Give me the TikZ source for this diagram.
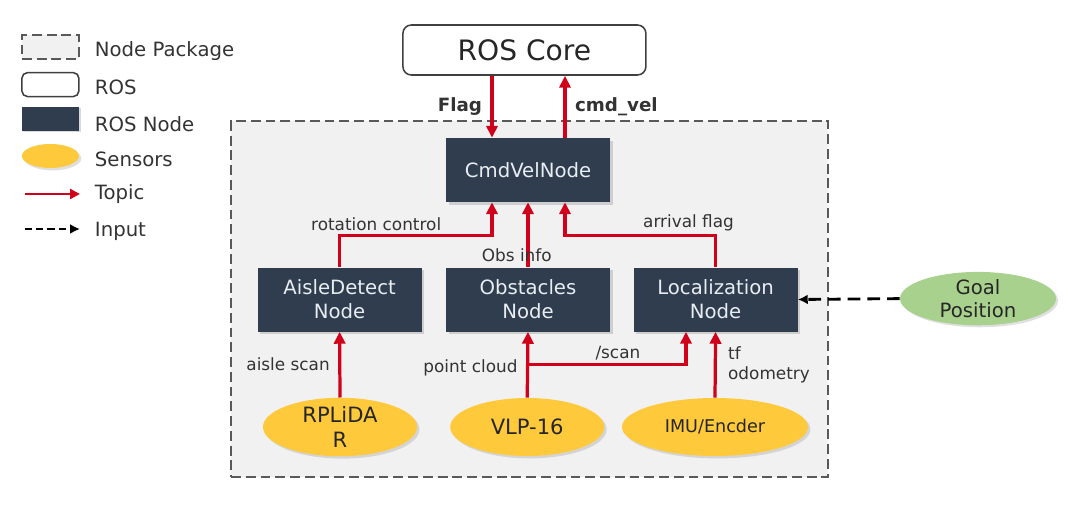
\documentclass[tikz,border=0pt]{standalone}
\usepackage{fontspec}
\setmainfont{DejaVu Sans}
\usepackage{xcolor}
\usepackage{tikz}
\usetikzlibrary{shapes.geometric, arrows.meta, positioning, calc, shadows}
\definecolor{nodeslate}{HTML}{2F3D4E}
\definecolor{nodetext}{HTML}{E8EDF2}
\definecolor{topicred}{HTML}{D0021B}
\definecolor{sensoryellow}{HTML}{FFC93C}
\definecolor{goalgreen}{HTML}{A9D18E}
\definecolor{pkggray}{HTML}{F1F1F1}
\definecolor{labelgray}{HTML}{333333}
\tikzset{
  corebox/.style={
    draw=black!75, line width=1.1pt, rounded corners=6pt, fill=white,
    minimum width=6.075cm, minimum height=1.25cm,
    font=\fontsize{20}{24}\selectfont, text=black!85
  },
  rosnode/.style={
    fill=nodeslate, text=nodetext, align=center,
    minimum width=4.1cm, minimum height=1.6cm,
    font=\fontsize{14}{17}\selectfont,
    drop shadow={shadow xshift=0.07cm, shadow yshift=-0.07cm, opacity=0.3}
  },
  sensornode/.style={
    ellipse, fill=sensoryellow, align=center, inner sep=0pt,
    minimum width=3.85cm, minimum height=1.45cm,
    font=\fontsize{15}{18}\selectfont, text=black!85,
    drop shadow={shadow xshift=0.06cm, shadow yshift=-0.06cm, opacity=0.25}
  },
  pkgbox/.style={draw=black!65, dash pattern=on 7pt off 3.5pt, fill=pkggray, line width=1.1pt},
  topic/.style={-{Triangle[length=8.5pt, width=8pt]}, line width=2.3pt, draw=topicred},
  inputarrow/.style={-{Latex[length=7pt, width=7pt]}, line width=2pt, dash pattern=on 7pt off 4.5pt},
  topiclabel/.style={font=\fontsize{12}{14}\selectfont, text=labelgray, inner sep=2pt},
  legendlabel/.style={anchor=west, font=\fontsize{14}{17}\selectfont, text=labelgray},
}

\begin{document}
\begin{tikzpicture}
  \useasboundingbox (0,0) rectangle (26.85,12.925);

  % legend
  \node[pkgbox, minimum width=1.425cm, minimum height=0.6cm] (legpkg) at (1.26,11.75) {};
  \node[draw=black!75, line width=1.1pt, rounded corners=4pt, fill=white, minimum width=1.425cm, minimum height=0.6cm] (legros) at (1.26,10.81) {};
  \node[fill=nodeslate, minimum width=1.425cm, minimum height=0.6cm,
        drop shadow={shadow xshift=0.04cm, shadow yshift=-0.04cm, opacity=0.3}] (legnode) at (1.26,9.96) {};
  \node[sensornode, minimum width=1.425cm, minimum height=0.6cm] (legsensor) at (1.26,9.025) {};
  \coordinate (legtopicA) at (0.625,8.075);
  \coordinate (legtopicB) at (2.0,8.075);
  \coordinate (leginputA) at (0.625,7.2);
  \coordinate (leginputB) at (2.0,7.2);
  \draw[topic, line width=1.6pt, -{Triangle[length=7pt, width=7pt]}] (legtopicA) -- (legtopicB);
  \draw[inputarrow, line width=1.6pt, dash pattern=on 5pt off 3pt] (leginputA) -- (leginputB);

  \node[legendlabel] (lpkg) at (2.25,11.65) {Node Package};
  \node[legendlabel] (lros) at (2.25,10.75) {ROS};
  \node[legendlabel] (lnode) at (2.25,9.83) {ROS Node};
  \node[legendlabel] (lsensor) at (2.25,8.95) {Sensors};
  \node[legendlabel] (ltopic) at (2.25,8.075) {Topic};
  \node[legendlabel] (linput) at (2.25,7.15) {Input};

  % package and nodes
  \node[pkgbox, minimum width=14.925cm, minimum height=8.9cm] (pkg) at (13.2375,5.45) {};

  \node[corebox] (core) at (13.11,11.675) {ROS Core};
  \node[rosnode] (cmd) at (13.2,8.675) {CmdVelNode};

  \node[rosnode] (aisle) at (8.49,5.4375) {AisleDetect\\Node};
  \node[rosnode] (obs) at (13.2,5.4375) {Obstacles\\Node};
  \node[rosnode] (loc) at (17.89,5.4375) {Localization\\Node};

  \node[sensornode] (rplidar) at (8.5,2.25) {RPLiDA\\R};
  \node[sensornode] (vlp) at (13.18,2.25) {VLP-16};
  \node[sensornode, minimum width=4.65cm, font=\fontsize{12.5}{15}\selectfont] (imu) at (17.875,2.25) {IMU/Encder};

  \node[ellipse, fill=goalgreen, align=center, inner sep=0pt, minimum width=3.9cm, minimum height=1.2cm,
        font=\fontsize{14}{16}\selectfont, text=black!85,
        drop shadow={shadow xshift=0.05cm, shadow yshift=-0.05cm, opacity=0.25}] (goal) at (24.45,5.46) {Goal\\Position};

  % topics
  \draw[topic] ([xshift=-0.9cm]cmd.north |- core.south) -- ([xshift=-0.9cm]cmd.north)
    node[midway, left=4pt, topiclabel, font=\bfseries\fontsize{13}{15}\selectfont] {Flag};
  \draw[topic] ([xshift=0.925cm]cmd.north) -- ([xshift=0.925cm]cmd.north |- core.south)
    node[midway, right=4pt, topiclabel, font=\bfseries\fontsize{13}{15}\selectfont] {cmd\_vel};

  \draw[topic] (aisle.north) -- ++(0,0.79) -| node[pos=0.12, above, topiclabel] {rotation control} ([xshift=-0.9cm]cmd.south);
  \draw[topic] (obs.north) -- (cmd.south) node[pos=0.18, xshift=-0.28cm, topiclabel] {Obs info};
  \draw[topic] (loc.north) -- ++(0,0.79) -| node[pos=0.09, above, topiclabel] {arrival flag} ([xshift=0.925cm]cmd.south);

  \draw[topic] (rplidar.north) -- (aisle.south) node[midway, left=4pt, topiclabel] {aisle scan};
  \draw[topic] (vlp.north) -- (obs.south) node[pos=0.45, left=4pt, topiclabel] {point cloud};
  \draw[topic] ($(vlp.north)!0.5!(obs.south)$) -| node[pos=0.285, above, topiclabel] {/scan} ([xshift=-0.74cm]loc.south);
  \draw[topic] (imu.north) -- (loc.south) node[midway, right=6pt, topiclabel, align=left] {tf\\odometry};

  % input
  \draw[inputarrow, dash pattern=on 9pt off 5pt] (goal.west) -- (loc.east);
\end{tikzpicture}
\end{document}
